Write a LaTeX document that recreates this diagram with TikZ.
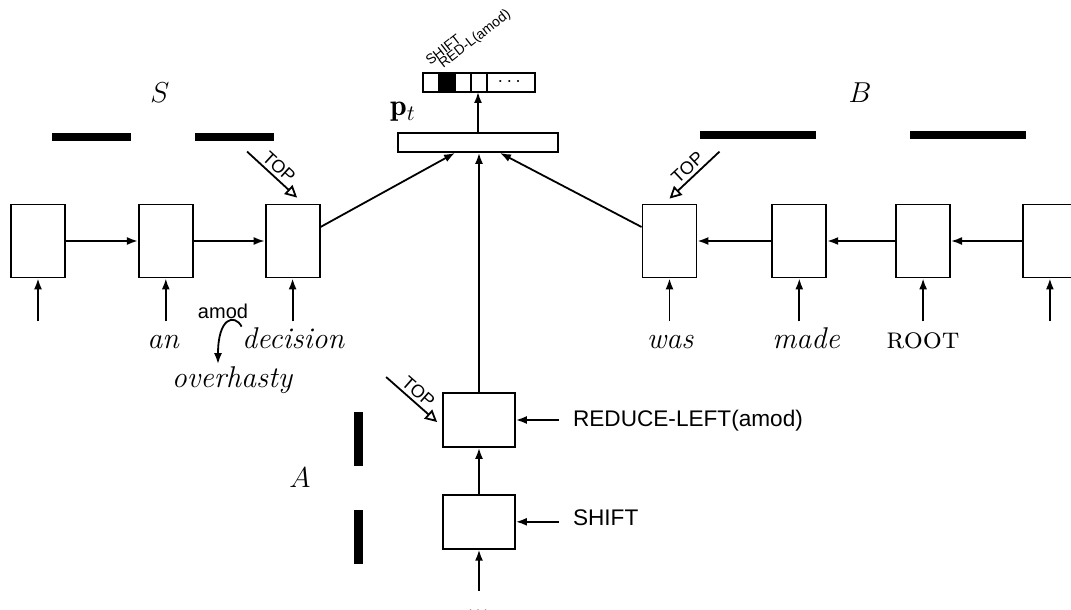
\documentclass[tikz,border=0pt]{standalone}
\usepackage{amsmath}
\usepackage{fontspec}
\newfontfamily\hv{Liberation Sans}
\usetikzlibrary{positioning,arrows.meta}
\tikzset{
    cell/.style = {rectangle, draw=black, line width=0.9pt, minimum width=27pt, minimum height=36.5pt, inner sep=0pt},
    wide/.style = {rectangle, draw=black, line width=0.9pt, minimum width=36pt, minimum height=27pt, inner sep=0pt},
    ocell/.style = {rectangle, draw=black, line width=0.9pt, minimum width=8pt, minimum height=9.5pt, inner sep=0pt, outer sep=0pt},
    bar/.style = {rectangle, fill=black, inner sep=0pt},
    word/.style = {font=\fontsize{15}{18}\selectfont\itshape},
    big/.style = {font=\fontsize{15}{18}\selectfont},
    sf/.style = {font=\hv\fontsize{11.3}{13}\selectfont},
    tiny/.style = {font=\hv\fontsize{7}{8}\selectfont, inner sep=0pt, rotate=38, anchor=base west},
    toplab/.style = {font=\hv\fontsize{9}{10}\selectfont, inner sep=1.5pt},
    arrow/.style = {line width=0.9pt,-{Latex[length=5.5pt,width=4pt]}},
    toparrow/.style = {line width=0.9pt,-{Triangle[open,length=6pt,width=6pt]}}
}
\begin{document}
\begin{tikzpicture}[x=0.5pt, y=-0.5pt]
\useasboundingbox (0,0) rectangle (1071,610);
\node (s1) [cell] at (38,241) {};
\node (s2) [cell, right=36pt of s1] {};
\node (s3) [cell, right=35.5pt of s2] {};
\node (b1) [cell] at (669.5,241) {};
\node (b2) [cell, right=37pt of b1] {};
\node (b3) [cell, right=34pt of b2] {};
\node (b4) [cell, right=35.5pt of b3] {};
\node (red) [wide] at (479,420) {};
\node (sh) [wide, below=23pt of red] {};
\node (pbox) [rectangle, draw=black, line width=0.9pt, minimum width=80pt, minimum height=9.5pt] at (478,142.5) {};

\node (o1) [ocell] at (431,82.5) {};
\node (o2) [ocell, fill=black, right=0pt of o1] {};
\node (o3) [ocell, right=0pt of o2] {};
\node (o4) [ocell, right=0pt of o3] {};
\node (o5) [ocell, minimum width=24pt, right=0pt of o4] {$\cdots$};
\node (lshift) [tiny] at ([shift={(3.5pt,3.5pt)}]o1.north west) {SHIFT};
\node (lredl) [tiny] at ([shift={(2pt,2pt)}]o2.north west) {RED-L(amod)};

\node (sbar1) [bar, minimum width=39.5pt, minimum height=4pt] at (91.5,137) {};
\node (sbar2) [bar, minimum width=39.5pt, minimum height=4pt] at (234.5,137) {};
\node (bbar1) [bar, minimum width=58pt, minimum height=4pt] at (758,135) {};
\node (bbar2) [bar, minimum width=58pt, minimum height=4pt] at (968,135) {};
\node (abar1) [bar, minimum width=4.5pt, minimum height=27pt] at (358.5,439) {};
\node (abar2) [bar, minimum width=4.5pt, minimum height=27pt] at (358.5,536.5) {};

\node (slab) [big] at (160,93) {$S$};
\node (blab) [big] at (860,93) {$B$};
\node (alab) [big] at (300,478) {$A$};
\node (plab) [big] at (403,112) {$\mathbf{p}_t$};

\node (wan) [word, anchor=base] at (163,348) {an};
\node (wdec) [word, anchor=base] at (293,348) {decision};
\node (wover) [word, anchor=base] at (232,387) {overhasty};
\node (wwas) [word, anchor=base] at (670,348) {was};
\node (wmade) [word, anchor=base] at (806,348) {made};
\node (wroot) [big, anchor=base] at (923,348) {\textsc{root}};
\node (amod) [font=\hv\fontsize{10}{12}\selectfont] at (223,311) {amod};
\node (lred) [sf, anchor=west] at (566,421) {REDUCE-LEFT(amod)};
\node (lsh) [sf, anchor=west] at (566,518) {SHIFT};
\node (more) [big, anchor=base] at (478,612) {...};

\foreach \n in {s1,s2,s3,b1,b2,b3,b4}
    \draw [arrow] ([yshift=-21.5pt]\n.south) -- (\n.south);
\draw [arrow] (s1) -- (s2);
\draw [arrow] (s2) -- (s3);
\draw [arrow] (b4) -- (b3);
\draw [arrow] (b3) -- (b2);
\draw [arrow] (b2) -- (b1);
\draw [arrow] (sh) -- (red);
\draw [arrow] ([yshift=-20.5pt]sh.south) -- (sh.south);
\draw [arrow] ([xshift=-3.5pt]lred.west |- red.east) -- (red.east);
\draw [arrow] ([xshift=-3.5pt]lsh.west |- sh.east) -- (sh.east);
\draw [arrow] (red.north) -- (red.north |- pbox.south);
\draw [arrow] ([yshift=7pt]s3.east) -- ([xshift=-11.5pt]pbox.south);
\draw [arrow] ([yshift=7pt]b1.west) -- ([xshift=11pt]pbox.south);
\draw [arrow] (pbox.north) -- (pbox.north |- o4.south);

\draw [toparrow] ([shift={(-22.75pt,26pt)}]s3.north) -- node [toplab, sloped, above] {TOP} ([shift={(2.25pt,3pt)}]s3.north);
\draw [toparrow] ([shift={(25pt,26pt)}]b1.north) -- node [toplab, sloped, above] {TOP} ([shift={(0pt,2.5pt)}]b1.north);
\draw [toparrow] ([shift={(-28pt,21.5pt)}]red.west) -- node [toplab, sloped, above] {TOP} ([shift={(-2.5pt,-1pt)}]red.west);

\draw [arrow] ([shift={(3.35pt,-3.25pt)}]wdec.north west) .. controls +(-3.5pt,6.5pt) and +(0,23.5pt) .. ([shift={(-7pt,-2.5pt)}]wover.north);
\end{tikzpicture}
\end{document}
